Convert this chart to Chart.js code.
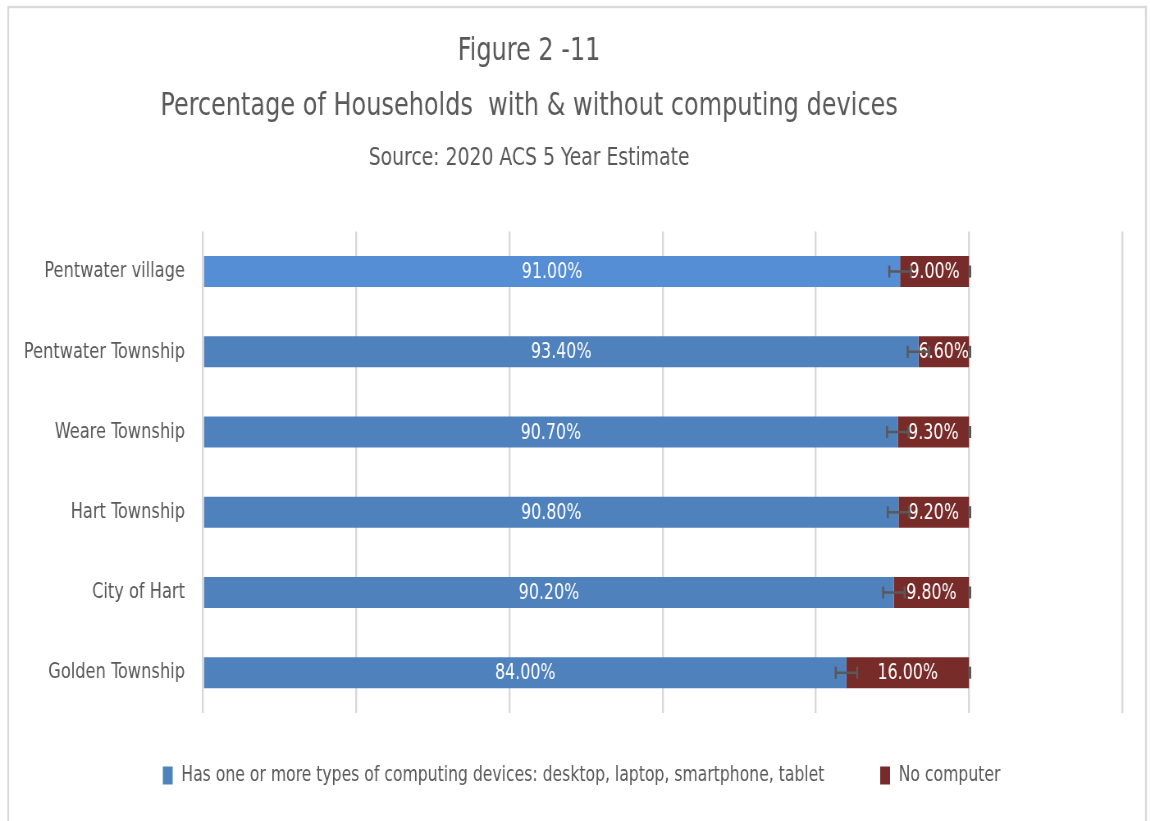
<!DOCTYPE html>
<html>
<head>
<meta charset="utf-8">
<title>Figure 2-11</title>
<script src="https://cdn.jsdelivr.net/npm/chart.js@4.4.1/dist/chart.umd.min.js"></script>
<style>
    html, body { margin: 0; padding: 0; background: #fff; overflow: hidden; }
    #wrap { position: relative; width: 1150px; height: 821px; overflow: hidden; }
    /* the source picture is drawn narrow, so the canvas is squeezed sideways */
    #chart { transform: scaleX(0.8203); transform-origin: 0 0; }
</style>
</head>
<body>
<div id="wrap"><canvas id="chart" width="1402" height="821"></canvas></div>
<script>
// Chart data
const places = ['Pentwater village', 'Pentwater Township', 'Weare Township', 'Hart Township', 'City of Hart', 'Golden Township'];
const hasDevice = [91.0, 93.4, 90.7, 90.8, 90.2, 84.0];
const noComputer = [9.0, 6.6, 9.3, 9.2, 9.8, 16.0];
const deviceErr = [1.4, 1.4, 1.4, 1.4, 1.4, 1.4];
const seriesNames = ['Has one or more types of computing devices: desktop, laptop, smartphone, tablet', 'No computer'];
const seriesColors = ['#4f81bd', '#772c2a'];
const titleLines = ['Figure 2 -11', 'Percentage of Households  with & without computing devices'];
const subtitleText = 'Source: 2020 ACS 5 Year Estimate';

const FONT = "'Liberation Sans Narrow', 'DejaVu Sans Condensed', 'Roboto Condensed', sans-serif";
const GREY = '#595959';

// border round the whole chart
const frame = {
    id: 'frame',
    beforeDraw(chart) {
        const ctx = chart.ctx;
        ctx.save();
        ctx.strokeStyle = '#d9d9d9';
        ctx.lineWidth = 2.4;
        ctx.strokeRect(10, 7, 1387, 830);
        ctx.restore();
    }
};

// Excel put the titles left of centre and the legend a bit right of it
const nudgeBoxes = {
    id: 'nudgeBoxes',
    afterLayout(chart) {
        chart.boxes.forEach(box => {
            if (!box.options) return;
            let dx = 0;
            if (box === chart.titleBlock || box.options.text === subtitleText) dx = -44;
            if (box === chart.legend) dx = 20;
            box.left += dx;
            box.right += dx;
        });
    }
};

// value labels and error bars
const labelsAndErrors = {
    id: 'labelsAndErrors',
    afterDatasetsDraw(chart) {
        const ctx = chart.ctx;
        const xs = chart.scales.x;
        ctx.save();
        ctx.font = '21.5px ' + FONT;
        ctx.fillStyle = '#fff';
        ctx.textAlign = 'center';
        ctx.textBaseline = 'middle';
        chart.data.datasets.forEach((ds, i) => {
            chart.getDatasetMeta(i).data.forEach((bar, j) => {
                const mid = (bar.x + bar.base) / 2;
                ctx.fillText(ds.data[j].toFixed(2) + '%', mid, bar.y + 1);
            });
        });

        // whiskers on the first series
        ctx.strokeStyle = GREY;
        ctx.lineWidth = 2.5;
        chart.getDatasetMeta(0).data.forEach((bar, j) => {
            const v = hasDevice[j];
            const x1 = xs.getPixelForValue(v - deviceErr[j]);
            const x2 = xs.getPixelForValue(v + deviceErr[j]);
            ctx.beginPath();
            ctx.moveTo(x1, bar.y); ctx.lineTo(x2, bar.y);
            ctx.moveTo(x1, bar.y - 6); ctx.lineTo(x1, bar.y + 6);
            ctx.moveTo(x2, bar.y - 6); ctx.lineTo(x2, bar.y + 6);
            ctx.stroke();
        });
        // caps at the end of the stack
        ctx.lineWidth = 3.5;
        chart.getDatasetMeta(1).data.forEach(bar => {
            ctx.beginPath();
            ctx.moveTo(bar.x + 1, bar.y - 6); ctx.lineTo(bar.x + 1, bar.y + 6);
            ctx.stroke();
        });
        ctx.restore();
    }
};

const ctx = document.getElementById('chart').getContext('2d');
new Chart(ctx, {
    type: 'bar',
    data: {
        labels: places,
        datasets: [
            {
                label: seriesNames[0],
                data: hasDevice,
                // top bar is a shade lighter in the source
                backgroundColor: ['#558ed5', seriesColors[0], seriesColors[0], seriesColors[0], seriesColors[0], seriesColors[0]],
                barPercentage: 0.77,
                categoryPercentage: 0.5
            },
            {
                label: seriesNames[1],
                data: noComputer,
                backgroundColor: seriesColors[1],
                barPercentage: 0.77,
                categoryPercentage: 0.5
            }
        ]
    },
    options: {
        indexAxis: 'y',
        responsive: false,
        animation: false,
        layout: { padding: { top: 24, left: 10, right: 34, bottom: 9 } },
        scales: {
            x: {
                stacked: true,
                min: 0,
                max: 120,
                ticks: { display: false, stepSize: 20 },
                grid: { color: '#d9d9d9', lineWidth: 2.4, drawTicks: false },
                border: { display: false },
                afterFit(scale) { scale.height = -16; }
            },
            y: {
                stacked: true,
                ticks: { color: GREY, font: { family: FONT, size: 22 }, padding: 22 },
                grid: { display: false, drawTicks: false },
                border: { display: false },
                afterFit(scale) { scale.width = 237.5; }
            }
        },
        plugins: {
            title: {
                display: true,
                text: titleLines,
                color: GREY,
                font: { family: FONT, size: 32.5, weight: 'normal', lineHeight: 1.69 },
                padding: { top: 0, bottom: 5 }
            },
            subtitle: {
                display: true,
                text: subtitleText,
                color: GREY,
                font: { family: FONT, size: 25.5, weight: 'normal' },
                padding: { top: 4, bottom: 58 }
            },
            legend: {
                position: 'bottom',
                labels: {
                    color: GREY,
                    font: { family: FONT, size: 21.2 },
                    boxWidth: 12,
                    boxHeight: 18,
                    padding: 68,
                    generateLabels(chart) {
                        const items = Chart.defaults.plugins.legend.labels.generateLabels(chart);
                        items.forEach((item, i) => {
                            item.fillStyle = seriesColors[i];
                            item.strokeStyle = seriesColors[i];
                            item.lineWidth = 0;
                        });
                        return items;
                    }
                }
            },
            tooltip: { enabled: false }
        }
    },
    plugins: [frame, nudgeBoxes, labelsAndErrors]
});
</script>
</body>
</html>
